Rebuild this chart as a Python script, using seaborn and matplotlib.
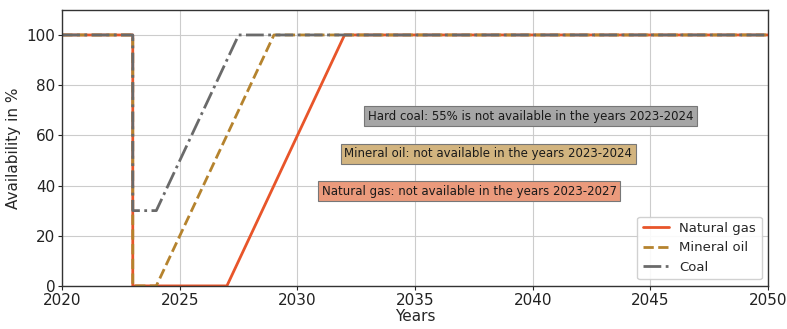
import matplotlib
matplotlib.use("Agg")
import matplotlib.pyplot as plt
import seaborn as sns
import pandas as pd

# Data
gas_years = [2020, 2023, 2023, 2027, 2032, 2050]
gas_vals = [100, 100, 0, 0, 100, 100]
oil_years = [2020, 2023, 2023, 2024, 2029, 2050]
oil_vals = [100, 100, 0, 0, 100, 100]
coal_years = [2020, 2023, 2023, 2024, 2027.5, 2050]
coal_vals = [100, 100, 30, 30, 100, 100]

series_names = ["Natural gas", "Mineral oil", "Coal"]
colors = ["#E8552A", "#B5832E", "#6A6A6A"]
styles = ["-", "--", "-."]

notes = [
    "Hard coal: 55% is not available in the years 2023-2024",
    "Mineral oil: not available in the years 2023-2024",
    "Natural gas: not available in the years 2023-2027",
]
note_x = [2039.9, 2038.1, 2037.3]
note_y = [67.6, 52.6, 37.8]
note_colors = ["#A6A6A6", "#D2B47F", "#EB9A7C"]

sns.set_style("ticks")
fig, ax = plt.subplots(figsize=(7.87, 3.29), dpi=100)
fig.subplots_adjust(left=0.079, right=0.976, top=0.97, bottom=0.131)

for yrs, vals, name, c, ls in zip([gas_years, oil_years, coal_years],
                                  [gas_vals, oil_vals, coal_vals],
                                  series_names, colors, styles):
    df = pd.DataFrame({"Years": yrs, "val": vals})
    sns.lineplot(data=df, x="Years", y="val", ax=ax, color=c, linestyle=ls,
                 linewidth=2, label=name, sort=False, estimator=None)

for t, x, y, bc in zip(notes, note_x, note_y, note_colors):
    ax.text(x, y, t, ha="center", va="center", fontsize=8.5, color="#1A1A1A",
            bbox=dict(boxstyle="square,pad=0.3", facecolor=bc, edgecolor="#777777",
                      linewidth=0.8))

ax.set_xlim(2020, 2050)
ax.set_ylim(0, 110)
ax.set_xticks(range(2020, 2051, 5))
ax.set_yticks(range(0, 101, 20))
ax.grid(True, color="#CCCCCC", linewidth=0.8)
ax.set_axisbelow(True)
ax.tick_params(labelsize=11, length=3, pad=2, colors="#222222")
ax.set_xlabel("Years", fontsize=11, labelpad=1)
ax.set_ylabel("Availability in %", fontsize=11, labelpad=4)
for s in ax.spines.values():
    s.set_color("#333333")
    s.set_linewidth(1.0)
ax.legend(loc="lower right", fontsize=9.5, framealpha=0.9)

fig.savefig("out.png", dpi=100)
